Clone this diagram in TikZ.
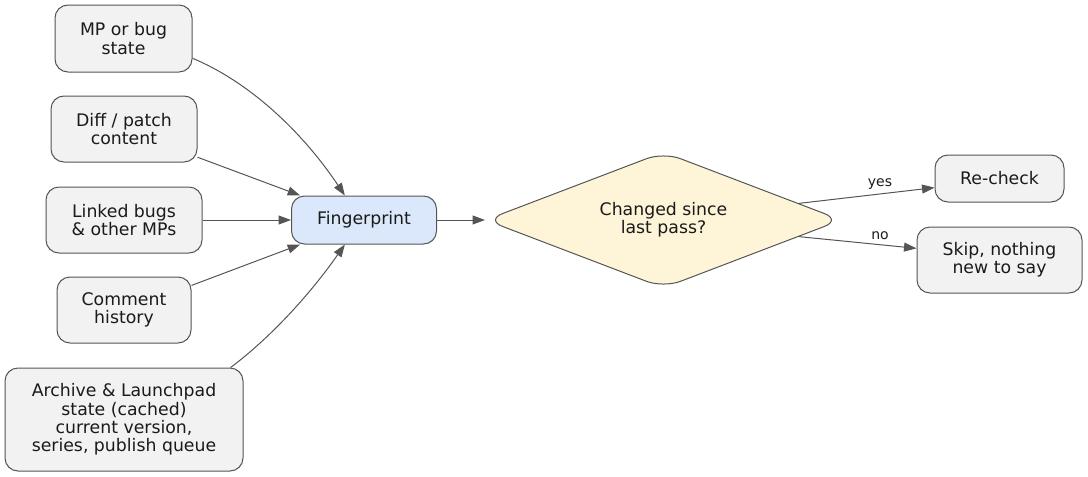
\documentclass[tikz,border=0pt]{standalone}
\usepackage{fontspec}
\setmainfont{DejaVu Sans}
\usetikzlibrary{arrows.meta,shapes.geometric}
\definecolor{linegray}{HTML}{555555}
\definecolor{boxfill}{HTML}{F2F2F2}
\definecolor{fpfill}{HTML}{DBE8FC}
\definecolor{diafill}{HTML}{FEF5D8}
\definecolor{txt}{HTML}{1A1A1A}
\tikzset{
  box/.style={draw=linegray, line width=1pt, fill=boxfill, rounded corners=13pt,
    inner sep=0pt, align=center, text=txt,
    font=\fontsize{17.3}{18.3}\selectfont},
  fpbox/.style={box, fill=fpfill},
  decision/.style={diamond, aspect=2.6, draw=linegray, line width=1pt, fill=diafill,
    rounded corners=18pt, inner sep=0pt, align=center, text=txt,
    minimum width=356pt, minimum height=136pt,
    font=\fontsize{17.3}{18.3}\selectfont},
  edge/.style={draw=linegray, line width=1pt,
    -{Triangle[length=12.5pt,width=9pt]}, color=linegray},
  lbl/.style={inner sep=0pt, text=txt, font=\fontsize{14}{16}\selectfont}
}
\begin{document}
\begin{tikzpicture}[x=1pt,y=-1pt]
\useasboundingbox (0,0) rectangle (1088,477);

\node[box, minimum width=137pt, minimum height=67pt] (mp) at (123.5,38.5) {MP or bug\\state};
\node[box, minimum width=146pt, minimum height=66pt] (diff) at (124,129) {Diff / patch\\content};
\node[box, minimum width=156pt, minimum height=66pt] (linked) at (124,220) {Linked bugs\\\& other MPs};
\node[box, minimum width=134pt, minimum height=66pt] (comment) at (124,310) {Comment\\history};
\node[box, minimum width=238pt, minimum height=103pt] (arch) at (124,419.5) {Archive \& Launchpad\\state (cached)\\current version,\\series, publish queue};
\node[fpbox, minimum width=145pt, minimum height=48pt] (fp) at (364,220) {Fingerprint};
\node[decision] (dia) at (663.5,220) {Changed since\\last pass?};
\node[box, minimum width=129pt, minimum height=47pt] (rc) at (999.5,178.5) {Re-check};
\node[box, minimum width=165pt, minimum height=66pt] (skip) at (999.5,260) {Skip, nothing\\new to say};

\draw[edge] (mp.-16) .. controls +(60,25) and +(-40,-60) .. (fp.128);
\draw[edge] (diff.-21) -- (fp.159);
\draw[edge] (linked.east) -- (fp.west);
\draw[edge] (comment.20) -- (fp.-159);
\draw[edge] (arch.26) .. controls +(40,-30) and +(-35,50) .. (fp.-128);
\draw[edge] (fp.east) -- (dia.west);
\draw[edge] (dia.7) -- (rc.188);
\draw[edge] (dia.-7) -- (skip.172.6);

\node[lbl] (yes) at (880,184) {yes};
\node[lbl] (no) at (880,236) {no};
\end{tikzpicture}
\end{document}
